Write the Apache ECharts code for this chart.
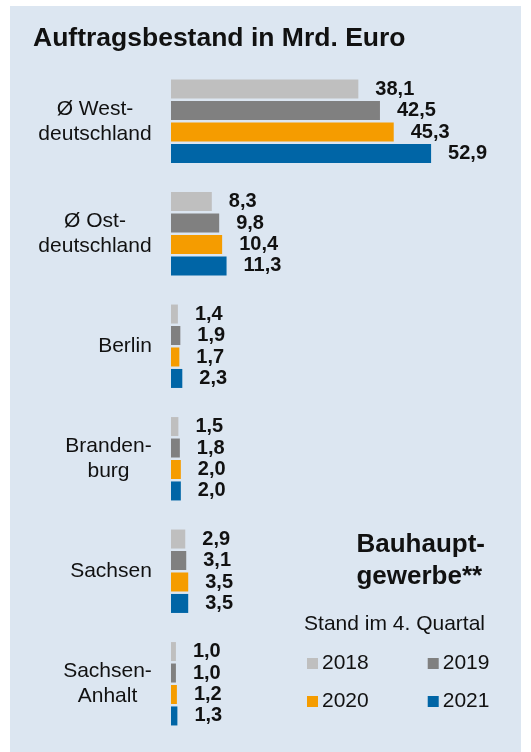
<!DOCTYPE html>
<html>
<head>
<meta charset="utf-8">
<script src="https://cdn.jsdelivr.net/npm/echarts@6/dist/echarts.min.js"></script>
<style>
  html, body { margin: 0; padding: 0; background: #fff; }
  #chart { width: 531px; height: 752px; }
</style>
</head>
<body>
<div id="chart"></div>
<script>
  // Auftragsbestand Bauhauptgewerbe, Mrd. Euro
  const regions = ['Ø West-\ndeutschland', 'Ø Ost-\ndeutschland', 'Berlin', 'Branden-\nburg', 'Sachsen', 'Sachsen-\nAnhalt']
  const years = ['2018', '2019', '2020', '2021']
  const data2018 = [38.1, 8.3, 1.4, 1.5, 2.9, 1.0]
  const data2019 = [42.5, 9.8, 1.9, 1.8, 3.1, 1.0]
  const data2020 = [45.3, 10.4, 1.7, 2.0, 3.5, 1.2]
  const data2021 = [52.9, 11.3, 2.3, 2.0, 3.5, 1.3]
  const colors = ['#bfbfbf', '#808080', '#f59c00', '#0065a6']

  const font = "'Liberation Sans', Arial, sans-serif"
  const chart = echarts.init(document.getElementById('chart'))

  // multi-line category labels: block right aligned, lines centred inside it
  const ctx = document.createElement('canvas').getContext('2d')
  ctx.font = '21px ' + font
  const rich = {}
  regions.forEach((r, i) => {
    const w = Math.max(...r.split('\n').map(l => ctx.measureText(l).width))
    rich['c' + i] = { width: Math.ceil(w), align: 'center', fontFamily: font, fontSize: 21, lineHeight: 25, color: '#111' }
  })

  const makeSeries = (name, values, idx) => ({
    type: 'bar',
    name: name,
    data: values,
    barWidth: 19,
    barGap: '13%',
    itemStyle: { color: colors[idx] },
    label: {
      show: true,
      position: 'right',
      distance: 17,
      fontFamily: font,
      fontSize: 20,
      fontWeight: 'bold',
      color: '#111',
      formatter: p => p.value.toFixed(1).replace('.', ',')
    }
  })

  const legendText = { fontFamily: font, fontSize: 21, color: '#111', padding: [0, 0, 0, -1] }

  chart.setOption({
    backgroundColor: '#fff',
    animation: false,
    textStyle: { fontFamily: font },
    graphic: [{
      type: 'rect',
      z: -10,
      shape: { x: 10, y: 6, width: 511, height: 746 },
      style: { fill: '#dce6f1' }
    }],
    title: [
      {
        text: 'Auftragsbestand in Mrd. Euro',
        left: 33,
        top: 25,
        padding: 0,
        textStyle: { fontFamily: font, fontSize: 26.5, fontWeight: 'bold', color: '#111' }
      },
      {
        text: 'Bauhaupt-\ngewerbe**',
        right: 46,
        top: 529,
        padding: 0,
        textStyle: { fontFamily: font, fontSize: 26, fontWeight: 'bold', color: '#111', lineHeight: 32 }
      },
      {
        text: 'Stand im 4. Quartal',
        right: 46,
        top: 614,
        padding: 0,
        textStyle: { fontFamily: font, fontSize: 21, fontWeight: 'normal', color: '#111' }
      }
    ],
    legend: [
      {
        data: years.slice(0, 2),
        left: 307,
        top: 653,
        padding: 0,
        icon: 'rect',
        itemWidth: 11,
        itemHeight: 11,
        itemGap: 59,
        selectedMode: false,
        textStyle: legendText
      },
      {
        data: years.slice(2, 4),
        left: 307,
        top: 691,
        padding: 0,
        icon: 'rect',
        itemWidth: 11,
        itemHeight: 11,
        itemGap: 59,
        selectedMode: false,
        textStyle: legendText
      }
    ],
    grid: { left: 171, right: 65, top: 65, bottom: 12, containLabel: false },
    xAxis: {
      type: 'value',
      min: 0,
      max: 60,
      show: false
    },
    yAxis: {
      type: 'category',
      inverse: true,
      data: regions,
      axisLine: { show: false },
      axisTick: { show: false },
      splitLine: { show: false },
      axisLabel: {
        margin: 19,
        align: 'right',
        formatter: (value, idx) => value.split('\n').map(l => '{c' + idx + '|' + l + '}').join('\n'),
        rich: rich
      }
    },
    series: [
      makeSeries(years[0], data2018, 0),
      makeSeries(years[1], data2019, 1),
      makeSeries(years[2], data2020, 2),
      makeSeries(years[3], data2021, 3)
    ]
  })
</script>
</body>
</html>
